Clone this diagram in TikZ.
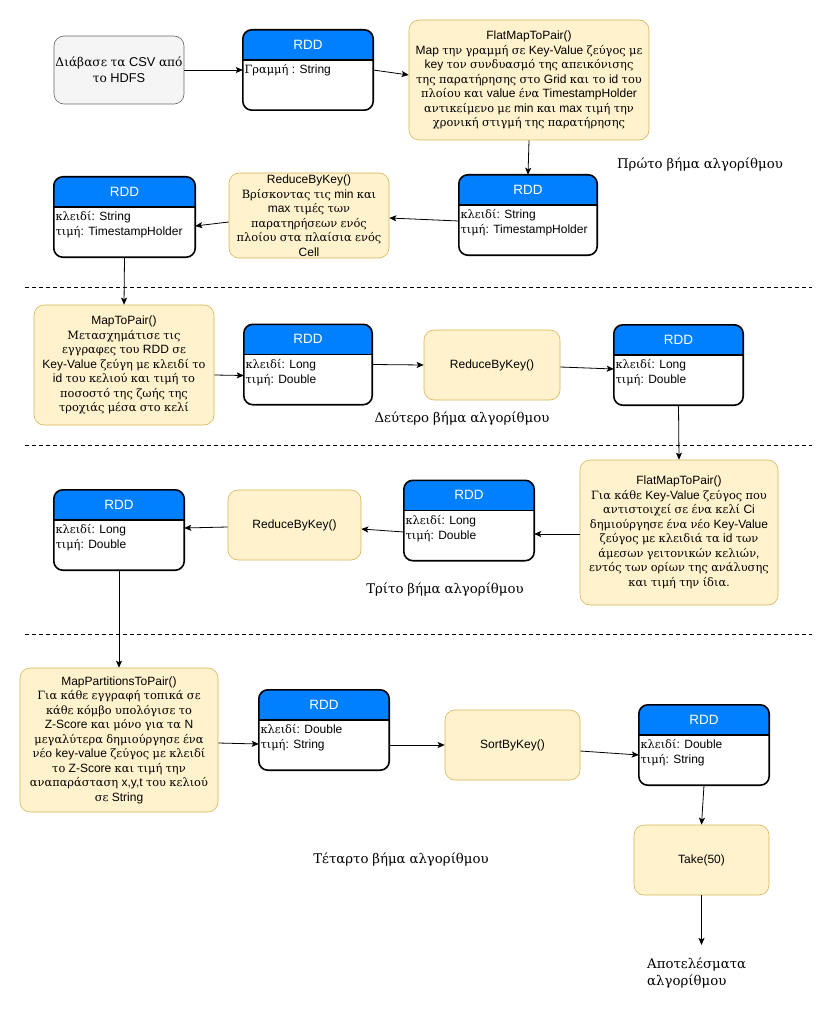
\documentclass[tikz,border=0pt]{standalone}
\usepackage{fontspec}
\setmainfont{Liberation Sans}
\newfontfamily\grfont{DejaVu Serif}[Scale=0.95]
\usepackage{xcolor}
\usepackage{tikz}
\usetikzlibrary{arrows.meta}
\definecolor{rddblau}{HTML}{007FFF}
\definecolor{gelbfill}{HTML}{FFF2CC}
\definecolor{gelbrand}{HTML}{D6B656}
\definecolor{graufill}{HTML}{F5F5F5}
\definecolor{graurand}{HTML}{666666}

% griechische Buchstaben in Serifenschrift, lateinische in Liberation Sans
\newcommand{\latfont}{\rmfamily}
\newXeTeXintercharclass\grclass
\count255="0370
\loop
  \XeTeXcharclass\count255=\grclass
  \ifnum\count255<"03FF \advance\count255 by 1 \repeat
\XeTeXinterchartoks 0 \grclass = {\grfont}
\XeTeXinterchartoks 4095 \grclass = {\grfont}
\XeTeXinterchartoks \grclass 0 = {\latfont}
\XeTeXinterchartoks \grclass 4095 = {\latfont}
\XeTeXinterchartokenstate=1

\tikzset{
  Operation/.style={draw=gelbrand, fill=gelbfill, rounded corners=10pt, line width=0.6pt,
    align=center, inner sep=0pt, font=\fontsize{12}{14.5}\selectfont}, % gelbe Kästen
  Eingabe/.style={Operation, draw=graurand, fill=graufill, font=\fontsize{12.8}{16}\selectfont}, % Datenquelle
  RDDKasten/.style={minimum height=80pt, inner sep=0pt, fill=white},
  RDDRand/.style={line width=1.6pt},
  RDDTitel/.style={text=white, inner sep=0pt, font=\fontsize{13.5}{14}\selectfont},
  RDDFeld/.style={anchor=north west, align=left, inner sep=1.5pt, font=\fontsize{12}{15}\selectfont},
  Verbindung/.style={->, line width=0.8pt}, % für Pfeile
  Schritt/.style={font=\fontsize{14}{17}\selectfont, inner sep=0pt}, % Schrittbeschriftung
  Trenner/.style={line width=0.8pt, dash pattern=on 4pt off 3pt}
}

% RDD-Kasten: Name, Mitte, Breite, Felder
\newcommand{\rddknoten}[4]{%
  \node[RDDKasten, minimum width=#3] (#1) at (#2) {};
  \begin{scope}
    \clip[rounded corners=9pt] (#1.north west) rectangle (#1.south east);
    \fill[rddblau] (#1.north west) rectangle ([yshift=-30pt]#1.north east);
  \end{scope}
  \draw[RDDRand] ([yshift=-30pt]#1.north west) -- ([yshift=-30pt]#1.north east);
  \draw[RDDRand, rounded corners=9pt] (#1.north west) rectangle (#1.south east);
  \node[RDDTitel] (#1-titel) at ([yshift=-15pt]#1.north) {RDD};
  \node[RDDFeld] (#1-feld) at ([yshift=-33pt]#1.north west) {#4};
}

\begin{document}
\begin{tikzpicture}[x=1pt, y=-1pt,
>={Stealth[length=7pt, width=6pt, inset=1.5pt]} % Voreinstellung für Pfeilspitzen
]
\useasboundingbox (0,0) rectangle (836,1011);

%Erster Schritt
\node[Eingabe, minimum width=130pt, minimum height=68pt] (lesen) at (119,70)
  {Διάβασε τα CSV από\\το HDFS};
\rddknoten{rdd1}{308,70}{130pt}{Γραμμή : String}
\node[Operation, minimum width=240pt, minimum height=120pt] (flat1) at (529,80)
  {FlatMapToPair()\\Map την γραμμή σε Key-Value ζεύγος με\\key τον συνδυασμό της απεικόνισης\\της παρατήρησης στο Grid και το id του\\πλοίου και value ένα TimestampHolder\\αντικείμενο με min και max τιμή την\\χρονική στιγμή της παρατήρησης};
\rddknoten{rdd2}{528,215}{138pt}{κλειδί: String\\τιμή: TimestampHolder}
\node[Operation, minimum width=160pt, minimum height=85pt] (reduce1) at (309,215.5)
  {ReduceByKey()\\Βρίσκοντας τις min και\\max τιμές των\\παρατηρήσεων ενός\\πλοίου στα πλαίσια ενός\\Cell};
\rddknoten{rdd3}{124.5,217}{141pt}{κλειδί: String\\τιμή: TimestampHolder}

%Zweiter Schritt
\node[Operation, minimum width=180pt, minimum height=120pt] (map) at (124,365)
  {MapToPair()\\Μετασχημάτισε τις\\εγγραφες του RDD σε\\Key-Value ζεύγη με κλειδί το\\id του κελιού και τιμή το\\ποσοστό της ζωής της\\τροχιάς μέσα στο κελί};
\rddknoten{rdd4}{308,364.5}{128pt}{κλειδί: Long\\τιμή: Double}
\node[Operation, minimum width=136pt, minimum height=70pt] (reduce2) at (492,365) {ReduceByKey()};
\rddknoten{rdd5}{678.5,365}{129pt}{κλειδί: Long\\τιμή: Double}

%Dritter Schritt
\node[Operation, minimum width=198pt, minimum height=145pt] (flat2) at (679,532.5)
  {FlatMapToPair()\\Για κάθε Key-Value ζεύγος που\\αντιστοιχεί σε ένα κελί Ci\\δημιούργησε ένα νέο Key-Value\\ζεύγος με κλειδιά τα id των\\άμεσων γειτονικών κελιών,\\εντός των ορίων της ανάλυσης\\και τιμή την ίδια.};
\rddknoten{rdd6}{469,520.5}{130pt}{κλειδί: Long\\τιμή: Double}
\node[Operation, minimum width=133pt, minimum height=70pt] (reduce3) at (294.5,525) {ReduceByKey()};
\rddknoten{rdd7}{119,530}{130pt}{κλειδί: Long\\τιμή: Double}

%Vierter Schritt
\node[Operation, minimum width=198pt, minimum height=144pt] (mappart) at (119,740)
  {MapPartitionsToPair()\\Για κάθε εγγραφή τοπικά σε\\κάθε κόμβο υπολόγισε το\\Z-Score και μόνο για τα N\\μεγαλύτερα δημιούργησε ένα\\νέο key-value ζεύγος με κλειδί\\το Z-Score και τιμή την\\αναπαράσταση x,y,t του κελιού\\σε String};
\rddknoten{rdd8}{324,730}{130pt}{κλειδί: Double\\τιμή: String}
\node[Operation, minimum width=135pt, minimum height=70pt] (sort) at (512.5,745) {SortByKey()};
\rddknoten{rdd9}{704,745}{130pt}{κλειδί: Double\\τιμή: String}
\node[Operation, minimum width=135pt, minimum height=70pt] (take) at (701.5,860) {Take(50)};
\coordinate (ende) at (701.5,945);

%Beschriftungen
\node[Schritt] (schritt1) at (700,165) {Πρώτο βήμα αλγορίθμου};
\node[Schritt] (schritt2) at (462,419) {Δεύτερο βήμα αλγορίθμου};
\node[Schritt] (schritt3) at (445,590) {Τρίτο βήμα αλγορίθμου};
\node[Schritt] (schritt4) at (401,860) {Τέταρτο βήμα αλγορίθμου};
\node[Schritt, anchor=north west, align=left] (ergebnis) at (647,958) {Αποτελέσματα\\αλγορίθμου};

%Trennlinien
\draw[Trenner] (25,287) -- (812,287);
\draw[Trenner] (25,445) -- (812,445);
\draw[Trenner] (25,634) -- (812,634);

%Pfeile
\draw[Verbindung] (lesen.east) -- (rdd1.west);
\draw[Verbindung] (rdd1.east) -- ([yshift=5pt]flat1.west);
\draw[Verbindung] (flat1.south) -- (rdd2.north);
\draw[Verbindung] ([yshift=-6pt]rdd2.west) -- ([yshift=-2.5pt]reduce1.east);
\draw[Verbindung] ([yshift=-6.5pt]reduce1.west) -- ([yshift=-9pt]rdd3.east);
\draw[Verbindung] (rdd3.south) -- (map.north);
\draw[Verbindung] ([yshift=-10pt]map.east) -- ([yshift=-11pt]rdd4.west);
\draw[Verbindung] (rdd4.east) -- (reduce2.west);
\draw[Verbindung] ([yshift=-2pt]reduce2.east) -- ([yshift=-4pt]rdd5.west);
\draw[Verbindung] (rdd5.south) -- (flat2.north);
\draw[Verbindung] ([yshift=-1.5pt]flat2.west) -- ([yshift=-13.5pt]rdd6.east);
\draw[Verbindung] ([yshift=-11.5pt]rdd6.west) -- ([yshift=-4pt]reduce3.east);
\draw[Verbindung] ([yshift=-2pt]reduce3.west) -- ([yshift=2pt]rdd7.east);
\draw[Verbindung] (rdd7.south) -- (mappart.north);
\draw[Verbindung] ([yshift=-3pt]mappart.east) -- ([yshift=-14pt]rdd8.west);
\draw[Verbindung] ([yshift=-15pt]rdd8.east) -- (sort.west);
\draw[Verbindung] ([yshift=-6pt]sort.east) -- ([yshift=-10pt]rdd9.west);
\draw[Verbindung] (rdd9.south) -- (take.north);
\draw[Verbindung] (take.south) -- (ende);

\end{tikzpicture}
\end{document}
